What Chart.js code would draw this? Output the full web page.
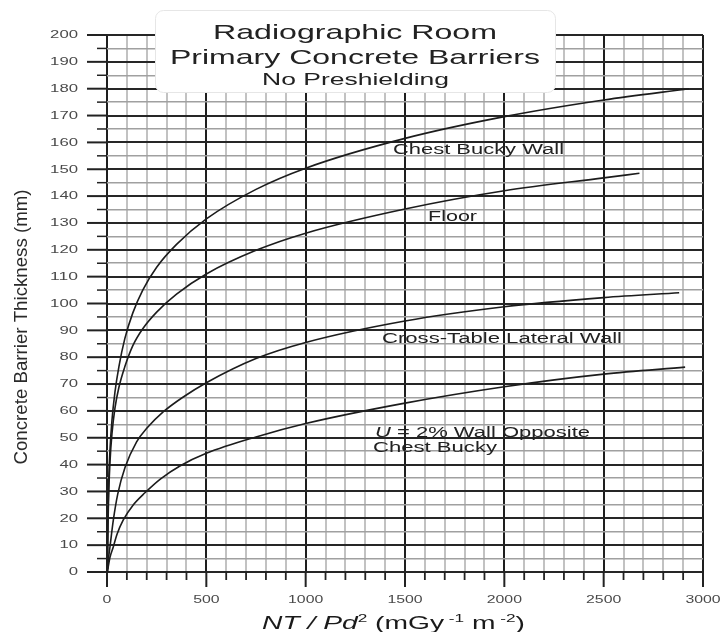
<!DOCTYPE html>
<html><head><meta charset="utf-8">
<script src="https://cdn.jsdelivr.net/npm/chart.js@4.4.1/dist/chart.umd.min.js"></script>
<style>html,body{margin:0;padding:0;background:#fff}#wrap{width:722px;height:632px;position:relative}</style>
</head><body><div id="wrap"><canvas id="c" width="722" height="632"></canvas></div>
<script>
// ---- data ----
const xTickValues = [0, 500, 1000, 1500, 2000, 2500, 3000];
const xTickLabels = ['0', '500', '1000', '1500', '2000', '2500', '3000'];
const yTickValues = [0,10,20,30,40,50,60,70,80,90,100,110,120,130,140,150,160,170,180,190,200];
const yTickLabels = yTickValues.map(String);
const seriesNames = ['Chest Bucky Wall', 'Floor', 'Cross-Table Lateral Wall', 'U = 2% Wall Opposite Chest Bucky'];

const chestBuckyX = [2, 3, 5, 9, 15, 25, 40, 60, 90, 130, 180, 250, 350, 500, 750, 1000, 1500, 2000, 2500, 2930];
const chestBuckyY = [0, 10, 22, 35, 45.5, 56.5, 67, 76.5, 87, 96.5, 105, 113.5, 122, 131.5, 142.5, 150.4, 161.5, 169.6, 175.8, 180];

const floorX = [2.5, 3, 5, 9, 15, 25, 40, 60, 90, 130, 180, 250, 350, 500, 750, 1000, 1500, 2000, 2500, 2680];
const floorY = [0, 5, 17, 30, 41, 51.5, 61, 68.8, 76.5, 84.3, 90.6, 96.8, 103.5, 111, 119.8, 126.2, 135.2, 142, 146.8, 148.5];

const crossTableX = [2, 6, 15, 32, 54, 91, 149, 200, 284, 380, 500, 750, 1000, 1500, 2000, 2500, 2880];
const crossTableY = [0, 4, 9.4, 19.4, 29, 39, 48.5, 53.5, 59.7, 65, 70.5, 79.5, 85.5, 93.5, 98.8, 102.2, 104];

const oppositeX = [4, 15, 32, 50, 82, 130, 191, 270, 367, 500, 750, 1000, 1500, 2000, 2500, 2910];
const oppositeY = [1, 5.5, 9.4, 14, 19.4, 24.8, 29.5, 34.7, 39.5, 44.2, 50.3, 55.3, 62.9, 69, 73.7, 76.3];

const seriesX = [chestBuckyX, floorX, crossTableX, oppositeX];
const seriesY = [chestBuckyY, floorY, crossTableY, oppositeY];

// ---- helpers ----
const FONT = '"Liberation Sans", Arial, sans-serif';
function stretchText(ctx, str, x, y, size, width, align, style) {
  ctx.save();
  ctx.font = (style || '') + ' ' + size + 'px ' + FONT;
  const w = ctx.measureText(str).width;
  const sx = width / w;
  ctx.translate(x, y);
  ctx.scale(sx, 1);
  ctx.textBaseline = 'middle';
  ctx.textAlign = 'left';
  let x0 = 0;
  if (align === 'center') x0 = -w / 2; else if (align === 'right') x0 = -w;
  ctx.fillText(str, x0, 0);
  ctx.restore();
}
// segments: [text, size, style, raise]
function segText(ctx, segs, left, baseline, width) {
  ctx.save();
  let total = 0;
  const ws = segs.map(s => { ctx.font = (s[2] || '') + ' ' + s[1] + 'px ' + FONT; const w = ctx.measureText(s[0]).width; total += w; return w; });
  const sx = width / total;
  ctx.translate(left, baseline);
  ctx.scale(sx, 1);
  ctx.textBaseline = 'alphabetic';
  ctx.textAlign = 'left';
  let x = 0;
  segs.forEach((s, i) => { ctx.font = (s[2] || '') + ' ' + s[1] + 'px ' + FONT; ctx.fillText(s[0], x, -(s[3] || 0)); x += ws[i]; });
  ctx.restore();
}

const decor = {
  id: 'decor',
  afterDraw(chart) {
    const ctx = chart.ctx;
    const xs = chart.scales.x, ys = chart.scales.y;
    const L = chart.chartArea.left, B = chart.chartArea.bottom;
    ctx.save();
    ctx.strokeStyle = '#222';
    // y ticks
    for (let v = 0; v <= 200; v += 5) {
      const p = ys.getPixelForValue(v);
      const major = v % 10 === 0;
      ctx.lineWidth = major ? 2 : 1.5;
      ctx.beginPath(); ctx.moveTo(L - (major ? 20 : 10), p); ctx.lineTo(L, p); ctx.stroke();
    }
    // x ticks
    for (let v = 0; v <= 3000; v += 100) {
      const p = xs.getPixelForValue(v);
      const major = v % 500 === 0;
      ctx.lineWidth = major ? 2 : 1.8;
      ctx.beginPath(); ctx.moveTo(p, B); ctx.lineTo(p, B + (major ? 15 : 8)); ctx.stroke();
    }
    // tick labels
    ctx.fillStyle = '#4a4a4a';
    yTickValues.forEach((v, i) => {
      const lab = yTickLabels[i];
      stretchText(ctx, lab, 78, ys.getPixelForValue(v) + 0.5, 10, 9.3 * lab.length, 'right');
    });
    xTickValues.forEach((v, i) => {
      const lab = xTickLabels[i];
      stretchText(ctx, lab, xs.getPixelForValue(v), 600, 10, 8.8 * lab.length, 'center');
    });
    // y axis title (rotated)
    ctx.fillStyle = '#2a2a2a';
    ctx.save();
    ctx.translate(22, 327);
    ctx.rotate(-Math.PI / 2);
    ctx.font = '14px ' + FONT;
    const yt = 'Concrete Barrier Thickness (mm)';
    const ytw = ctx.measureText(yt).width;
    ctx.scale(275 / ytw, 1.3);
    ctx.textBaseline = 'middle';
    ctx.fillText(yt, -ytw / 2, 0);
    ctx.restore();
    // x axis title
    ctx.fillStyle = '#1a1a1a';
    segText(ctx, [['NT / Pd', 18, 'italic'], ['2', 11, '', 7], [' (mGy', 18], [' -1', 11, '', 7], [' m', 18], [' -2', 11, '', 7], [')', 18]], 262, 629, 263);
    // curve labels
    ctx.fillStyle = '#222';
    stretchText(ctx, 'Chest Bucky Wall', 393, 150, 14, 171, 'left');
    stretchText(ctx, 'Floor', 428, 217, 14, 49, 'left');
    stretchText(ctx, 'Cross-Table Lateral Wall', 382, 339, 14, 240, 'left');
    segText(ctx, [['U', 14, 'italic'], [' = 2% Wall Opposite', 14]], 375, 437, 215);
    stretchText(ctx, 'Chest Bucky', 373, 448, 14, 124, 'left');
    // title box
    ctx.fillStyle = '#fff';
    ctx.strokeStyle = '#e6e6e6';
    ctx.lineWidth = 1;
    ctx.beginPath();
    ctx.roundRect(155.5, 10.5, 400, 82, 8);
    ctx.fill(); ctx.stroke();
    ctx.fillStyle = '#222';
    stretchText(ctx, 'Radiographic Room', 355, 33, 21, 284, 'center');
    stretchText(ctx, 'Primary Concrete Barriers', 355, 58, 21, 370, 'center');
    stretchText(ctx, 'No Preshielding', 355.5, 80, 17, 187, 'center');
    ctx.restore();
  }
};

const datasets = seriesNames.map((name, k) => ({
  label: name,
  data: seriesX[k].map((x, i) => ({ x: x, y: seriesY[k][i] })),
  borderColor: '#1c1c1c',
  borderWidth: 1.6,
  pointRadius: 0,
  fill: false,
  cubicInterpolationMode: 'monotone'
}));

new Chart(document.getElementById('c'), {
  type: 'line',
  data: { datasets: datasets },
  options: {
    responsive: false,
    animation: false,
    devicePixelRatio: 1,
    layout: { padding: { left: 107, right: 19, top: 35, bottom: 60 } },
    plugins: { legend: { display: false }, tooltip: { enabled: false }, title: { display: false } },
    scales: {
      x: {
        type: 'linear', min: 0, max: 3000,
        ticks: { display: false, stepSize: 100 },
        border: { display: false },
        grid: {
          drawTicks: false,
          color: c => (c.tick && c.tick.value % 500 === 0) ? '#1e1e1e' : '#c2c2c2',
          lineWidth: 2
        }
      },
      y: {
        type: 'linear', min: 0, max: 200,
        ticks: { display: false, stepSize: 5 },
        border: { display: false },
        grid: {
          drawTicks: false,
          color: c => (c.tick && c.tick.value % 10 === 0) ? '#262626' : '#a0a0a0',
          lineWidth: c => (c.tick && c.tick.value % 10 === 0) ? 2 : 1.5
        }
      }
    }
  },
  plugins: [decor]
});
</script>
</body></html>
